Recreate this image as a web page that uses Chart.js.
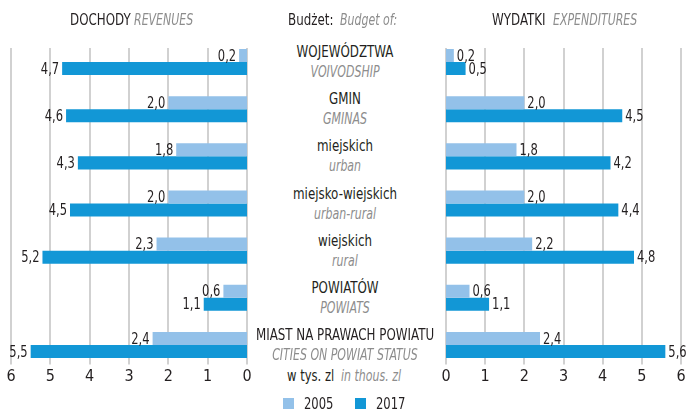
<!DOCTYPE html>
<html>
<head>
<meta charset="utf-8">
<script src="https://cdn.jsdelivr.net/npm/chart.js@4/dist/chart.umd.min.js"></script>
<style>
  body { margin: 0; background: #fff; }
  #wrap { position: relative; width: 686px; height: 411px; overflow: hidden;
          font-family: 'DejaVu Sans Condensed', 'DejaVu Sans', sans-serif; color: #231f20; }
  canvas { position: absolute; top: 0; }
  .t { position: absolute; white-space: nowrap; font-size: 16.5px; line-height: 1;
       transform-origin: 0 50%; transform: translateY(-50%) scaleX(0.78); }
  .t.h { transform: translateY(-50%) scaleX(0.8); }
  .c { transform-origin: 50% 50%; transform: translate(-50%, -50%) scaleX(0.8); }
  .en { font-style: italic; color: #8d8d8d; }
  .t.en { transform: translateY(-50%) scaleX(0.74); }
  .c.en { transform: translate(-50%, -50%) scaleX(0.74); }
  .sw { position: absolute; width: 11px; height: 11px; }
</style>
</head>
<body>
<div id="wrap">
  <canvas id="revenues" width="262" height="411" style="left:0"></canvas>
  <canvas id="expenditures" width="256" height="411" style="left:430px"></canvas>

  <span class="t h" style="left:70px;top:20px">DOCHODY</span>
  <span class="t en" style="left:134px;top:20px">REVENUES</span>
  <span class="t h" style="left:288px;top:20px">Budżet:</span>
  <span class="t en" style="left:340px;top:20px">Budget of:</span>
  <span class="t h" style="left:492px;top:20px">WYDATKI</span>
  <span class="t en" style="left:553px;top:20px">EXPENDITURES</span>

  <span class="t" style="left:287px;top:376px">w tys. zl</span>
  <span class="t en" style="left:341px;top:376px">in thous. zl</span>

  <div id="labels"></div>
  <div id="legend"></div>
</div>

<script>
// budget per capita, thousands of zloty
const categoriesPl = ['WOJEWÓDZTWA', 'GMIN', 'miejskich', 'miejsko-wiejskich', 'wiejskich', 'POWIATÓW', 'MIAST NA PRAWACH POWIATU'];
const categoriesEn = ['VOIVODSHIP', 'GMINAS', 'urban', 'urban-rural', 'rural', 'POWIATS', 'CITIES ON POWIAT STATUS'];
const years = ['2005', '2017'];
const revenues2005 = [0.2, 2.0, 1.8, 2.0, 2.3, 0.6, 2.4];
const revenues2017 = [4.7, 4.6, 4.3, 4.5, 5.2, 1.1, 5.5];
const expenditures2005 = [0.2, 2.0, 1.8, 2.0, 2.2, 0.6, 2.4];
const expenditures2017 = [0.5, 4.5, 4.2, 4.4, 4.8, 1.1, 5.6];
const xTicks = [0, 1, 2, 3, 4, 5, 6];

const colors = ['#93c1e9', '#1297d6'];
const fontFamily = "'DejaVu Sans Condensed', 'DejaVu Sans', sans-serif";

const fmt = v => v.toFixed(1).replace('.', ',');

// vertical grid lines, a bit shorter than the plot area
const gridLines = {
    id: 'gridLines',
    beforeDatasetsDraw(chart) {
        const { ctx, chartArea, scales: { x } } = chart;
        ctx.save();
        ctx.strokeStyle = '#b8b8b8';
        ctx.lineWidth = 1.3;
        xTicks.forEach(v => {
            const px = Math.round(x.getPixelForValue(v));
            ctx.beginPath();
            ctx.moveTo(px, chartArea.top + 9.5);
            ctx.lineTo(px, chartArea.bottom - 4);
            ctx.stroke();
        });
        ctx.restore();
    }
};

// value at the outer end of each bar, squeezed a little to look condensed
const valueLabels = {
    id: 'valueLabels',
    afterDatasetsDraw(chart) {
        const ctx = chart.ctx;
        const rev = chart.scales.x.options.reverse;
        chart.data.datasets.forEach((ds, i) => {
            chart.getDatasetMeta(i).data.forEach((bar, j) => {
                ctx.save();
                ctx.translate(bar.x + (rev ? -3 : 3), bar.y + 1);
                ctx.scale(0.8, 1);
                ctx.font = '16px ' + fontFamily;
                ctx.fillStyle = '#231f20';
                ctx.textBaseline = 'middle';
                ctx.textAlign = rev ? 'right' : 'left';
                ctx.fillText(fmt(ds.data[j]), 0, 0);
                ctx.restore();
            });
        });
    }
};

function makeChart(id, data2005, data2017, reverse, padding) {
    return new Chart(document.getElementById(id), {
        type: 'bar',
        data: {
            labels: categoriesPl,
            datasets: [
                { label: years[0], data: data2005, backgroundColor: colors[0] },
                { label: years[1], data: data2017, backgroundColor: colors[1] }
            ]
        },
        options: {
            indexAxis: 'y',
            responsive: false,
            animation: false,
            barPercentage: 1,
            categoryPercentage: 0.553,
            layout: { padding: padding },
            plugins: { legend: { display: false }, tooltip: { enabled: false } },
            scales: {
                x: {
                    min: 0, max: 6, reverse: reverse,
                    grid: { display: false, drawTicks: false, tickLength: 0 },
                    border: { display: false },
                    ticks: { stepSize: 1, padding: 0, color: '#231f20',
                             font: { family: fontFamily, size: 16, lineHeight: 1 } }
                },
                y: { display: false }
            }
        },
        plugins: [gridLines, valueLabels]
    });
}

const revChart = makeChart('revenues', revenues2005, revenues2017, true,
    { left: 11, right: 15, top: 38.5, bottom: 26.5 });
const expChart = makeChart('expenditures', expenditures2005, expenditures2017, false,
    { left: 16, right: 5, top: 38.5, bottom: 26.5 });

// category names in the middle column, aligned with the bar groups
const labels = document.getElementById('labels');
const yScale = revChart.scales.y;
categoriesPl.forEach((name, i) => {
    const y = yScale.getPixelForValue(i);
    const pl = document.createElement('span');
    pl.className = 't c';
    pl.style.left = '345px';
    pl.style.top = (y - 10) + 'px';
    pl.textContent = name;
    const en = document.createElement('span');
    en.className = 't c en';
    en.style.left = '345px';
    en.style.top = (y + 10) + 'px';
    en.textContent = categoriesEn[i];
    labels.appendChild(pl);
    labels.appendChild(en);
});

// legend
const legend = document.getElementById('legend');
const legendX = [283, 355];
revChart.data.datasets.forEach((ds, i) => {
    const sw = document.createElement('div');
    sw.className = 'sw';
    sw.style.left = legendX[i] + 'px';
    sw.style.top = '398px';
    sw.style.background = ds.backgroundColor;
    const txt = document.createElement('span');
    txt.className = 't';
    txt.style.left = (legendX[i] + 21) + 'px';
    txt.style.top = '404px';
    txt.textContent = ds.label;
    legend.appendChild(sw);
    legend.appendChild(txt);
});
</script>
</body>
</html>
